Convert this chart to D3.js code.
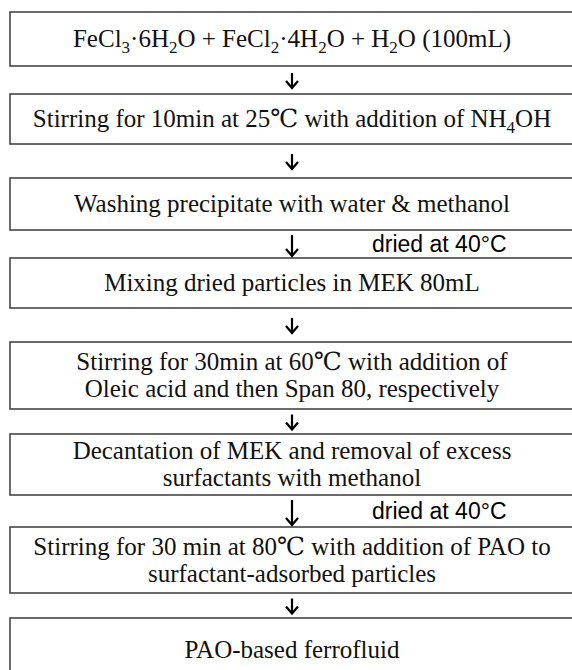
<!DOCTYPE html>
<head>
<meta charset="utf-8">
<style>
    body { margin: 0; background: #fff; }
    .step { font-family: "Liberation Serif", "DejaVu Serif", serif; font-size: 25px; fill: #111; }
    .note { font-family: "Liberation Sans", Arial, sans-serif; font-size: 23px; fill: #000; }
    rect { fill: #fff; stroke: #3a3a3a; stroke-width: 1.5; }
    .arrow { fill: none; stroke: #000; stroke-width: 2.2; }
</style>
</head>
<body>
    <script src="https://d3js.org/d3.v7.min.js"></script>
    <script>

    ///////////////////////////
    ////////// DATA ///////////
    ///////////////////////////

    // _{x} marks a subscript
    const steps = [
        ['FeCl_{3}·6H_{2}O + FeCl_{2}·4H_{2}O + H_{2}O (100mL)'],
        ['Stirring for 10min at 25℃ with addition of NH_{4}OH'],
        ['Washing precipitate with water & methanol'],
        ['Mixing dried particles in MEK 80mL'],
        ['Stirring for 30min at 60℃ with addition of', 'Oleic acid and then Span 80, respectively'],
        ['Decantation of MEK and removal of excess', 'surfactants with methanol'],
        ['Stirring for 30 min at 80℃ with addition of PAO to', 'surfactant-adsorbed particles'],
        ['PAO-based ferrofluid']
    ];
    // note written beside the arrow that leaves step i
    const notes = [null, null, 'dried at 40°C', null, null, 'dried at 40°C', null];

    ///////////////////////////
    ////////// SETUP //////////
    ///////////////////////////

    const width = 572, height = 670;
    const boxLeft = 10, boxRight = 580;
    const cx = 292;
    const boxTop =    [12, 94, 178, 258, 342, 434, 527, 618];
    const boxHeight = [54, 50, 52,  50,  67,  61,  66,  70];
    const lineGap = 27;

    const svg = d3.select('body').append('svg')
        .attr('width', width)
        .attr('height', height);

    //////////////////////////
    ////////// DRAW //////////
    //////////////////////////

    function addText(sel, str) {
        const parts = str.split(/(_\{[^}]*\})/).filter(p => p);
        let shifted = false;
        parts.forEach(p => {
            const m = p.match(/^_\{([^}]*)\}$/);
            if (m) {
                sel.append('tspan').attr('dy', 6).attr('font-size', 17).text(m[1]);
                shifted = true;
            } else {
                sel.append('tspan').attr('dy', shifted ? -6 : 0).text(p);
                shifted = false;
            }
        });
    }

    const box = svg.selectAll('g.box')
        .data(steps)
        .join('g')
        .attr('class', 'box')
        .attr('transform', (d, i) => 'translate(0,' + boxTop[i] + ')');

    box.append('rect')
        .attr('x', boxLeft)
        .attr('y', 0)
        .attr('width', boxRight - boxLeft)
        .attr('height', (d, i) => boxHeight[i]);

    box.each(function(lines, i) {
        const g = d3.select(this);
        const h = i === steps.length - 1 ? 64 : boxHeight[i];
        const y0 = h / 2 - (lines.length - 1) * lineGap / 2 + 8;
        lines.forEach((ln, j) => {
            const t = g.append('text')
                .attr('class', 'step')
                .attr('x', cx)
                .attr('y', y0 + j * lineGap)
                .attr('text-anchor', 'middle');
            addText(t, ln);
        });
    });

    // arrows between boxes
    const links = d3.range(steps.length - 1).map(i => ({
        y1: boxTop[i] + boxHeight[i],
        y2: boxTop[i + 1],
        note: notes[i]
    }));

    const arrow = svg.selectAll('g.link')
        .data(links)
        .join('g')
        .attr('class', 'link');

    arrow.append('path')
        .attr('class', 'arrow')
        .attr('d', d => {
            const long = d.note != null;
            const mid = (d.y1 + d.y2) / 2;
            const top = long ? d.y1 + 5 : mid - 7;
            const bot = long ? d.y2 - 2 : mid + 8;
            return 'M' + cx + ',' + top + 'V' + bot +
                'M' + (cx - 6) + ',' + (bot - 7) + 'L' + cx + ',' + bot + 'L' + (cx + 6) + ',' + (bot - 7);
        });

    arrow.filter(d => d.note)
        .append('text')
        .attr('class', 'note')
        .attr('x', 372)
        .attr('y', d => (d.y1 + d.y2) / 2 + 8)
        .text(d => d.note);

    </script>
</body>
